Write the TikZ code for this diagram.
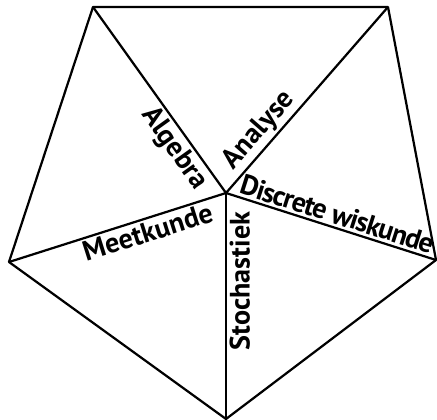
\documentclass[tikz,border=0pt]{standalone}
\usepackage{fontspec}
\setmainfont{PT Sans}
\begin{document}
\begin{tikzpicture}[x=0.03cm,y=-0.03cm,line width=1.9pt,line join=round,
    font=\fontsize{24}{28}\selectfont\bfseries,
    vak/.style={inner sep=2pt},
    smal/.style={font=\fontsize{24}{28}\selectfont\bfseries\addfontfeature{LetterSpace=-4}}]
  \useasboundingbox (0,0) rectangle (437,420);
  % hoekpunten van de vijfhoek en het midden
  \coordinate (lb) at (93,7);
  \coordinate (rb) at (388,7);
  \coordinate (r) at (436,260);
  \coordinate (o) at (226,419);
  \coordinate (l) at (9,262);
  \coordinate (m) at (226,193);
  \draw (lb) -- (rb) -- (r) -- (o) -- (l) -- cycle;
  \foreach \p in {lb,rb,r,o,l} \draw (m) -- (\p);
  % namen van de vakken
  \path (m) -- (lb) node[vak,pos=0.29,anchor=north,rotate=-54.4] (alg) {Algebra};
  \path (m) -- (rb) node[vak,pos=0.28,anchor=south,rotate=48.9] (ana) {Analyse};
  \path (m) -- (r) node[vak,smal,pos=0.51,anchor=south,rotate=-17.7] (dis) {Discrete wiskunde};
  \path (m) -- (l) node[vak,pos=0.38,anchor=north,rotate=17.6] (mee) {Meetkunde};
  \path (m) -- (o) node[vak,pos=0.39,anchor=north,rotate=90] (sto) {Stochastiek};
\end{tikzpicture}
\end{document}
